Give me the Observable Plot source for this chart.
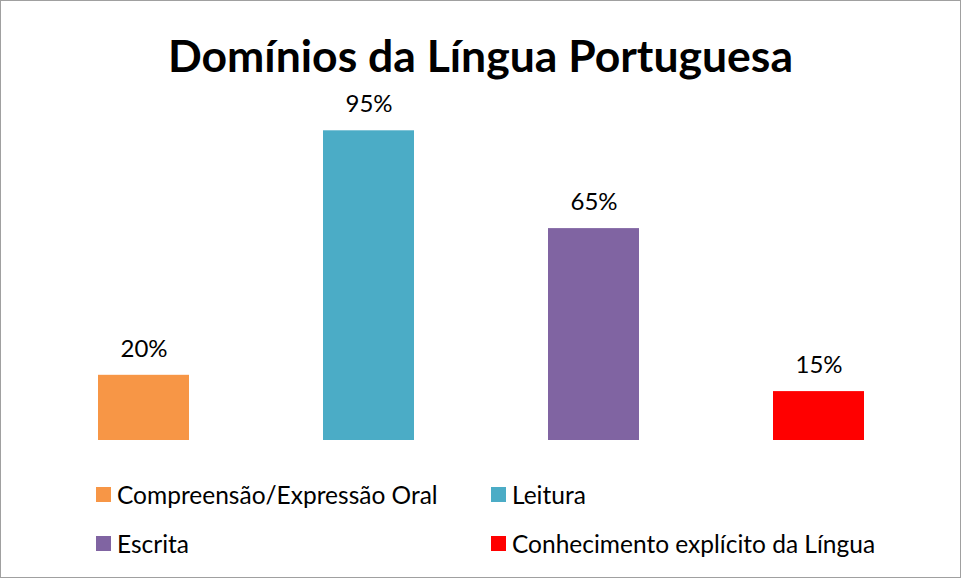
<!DOCTYPE html>
<html>
<head>
<meta charset="utf-8">
<script src="https://cdn.jsdelivr.net/npm/d3@7"></script>
<script src="https://cdn.jsdelivr.net/npm/@observablehq/plot@0.6"></script>
<style>
  html, body { margin: 0; padding: 0; background: #fff; }
  #frame { width: 961px; height: 578px; box-sizing: border-box; border: 1px solid #a0a0a0; background: #fff; font-family: Lato, "Open Sans", sans-serif; color: #000; overflow: hidden; }
  #title { height: 84px; box-sizing: border-box; padding-top: 30px; line-height: 48px; font-size: 44.5px; font-weight: bold; text-align: center; white-space: nowrap; }
  #chart svg { display: block; }
  #legend { padding-top: 15px; padding-left: 95px; display: grid; grid-template-columns: 395px 420px; grid-auto-rows: 49px; font-size: 24.5px; }
  .item { display: flex; align-items: center; white-space: nowrap; }
  .sw { width: 15px; height: 15px; margin-right: 6px; flex: none; }
</style>
</head>
<body>
<div id="frame">
  <div id="title"></div>
  <div id="chart"></div>
  <div id="legend"></div>
</div>
<script>
const title = "Domínios da Língua Portuguesa";
const categories = ["Compreensão/Expressão Oral", "Leitura", "Escrita", "Conhecimento explícito da Língua"];
const values = [20, 95, 65, 15];
const colors = ["#F79646", "#4BACC6", "#8064A2", "#FF0000"];

const data = categories.map((c, i) => ({category: c, value: values[i], label: values[i] + "%"}));

document.getElementById("title").textContent = title;

const plot = Plot.plot({
  width: 959,
  height: 370,
  marginTop: 29,
  marginBottom: 15,
  marginLeft: 7,
  marginRight: 6,
  style: {fontFamily: "Lato, 'Open Sans', sans-serif", background: "transparent"},
  x: {domain: categories, paddingInner: 0.596, paddingOuter: 0.4, axis: null},
  y: {domain: [0, 100], axis: null},
  color: {domain: categories, range: colors},
  marks: [
    Plot.barY(data, {x: "category", y: "value", fill: "category"}),
    Plot.text(data, {x: "category", y: "value", text: "label", dy: -26, fontSize: 24, fill: "#000", lineAnchor: "middle"})
  ]
});
document.getElementById("chart").appendChild(plot);

const legend = document.getElementById("legend");
categories.forEach((c, i) => {
  const item = document.createElement("div");
  item.className = "item";
  const sw = document.createElement("span");
  sw.className = "sw";
  sw.style.background = colors[i];
  const t = document.createElement("span");
  t.textContent = c;
  item.appendChild(sw);
  item.appendChild(t);
  legend.appendChild(item);
});
</script>
</body>
</html>
